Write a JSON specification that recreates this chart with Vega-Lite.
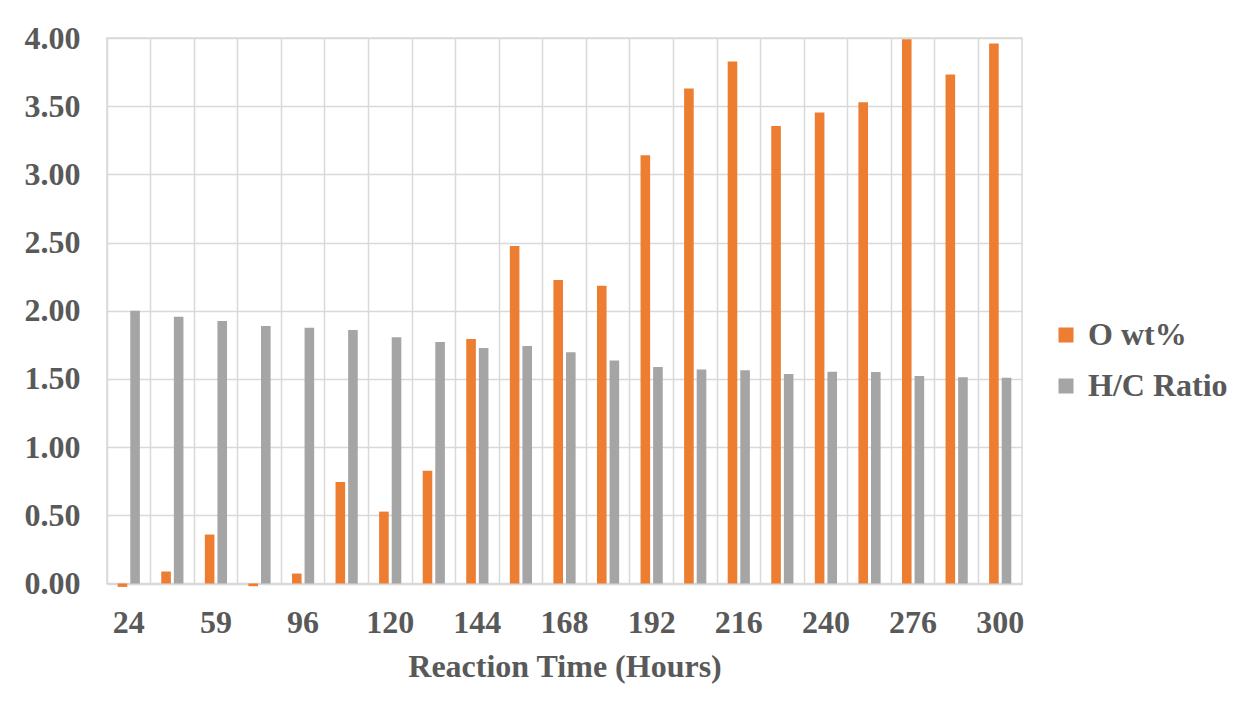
{
  "$schema": "https://vega.github.io/schema/vega-lite/v6.json",
  "width": 915,
  "height": 545.5,
  "autosize": {"type": "none"},
  "padding": {"left": 107, "top": 38, "right": 222, "bottom": 129.5},
  "background": "white",
  "data": {
    "values": [
      {"time": "24", "series": "O wt%", "value": -0.025},
      {"time": "24", "series": "H/C Ratio", "value": 2.0},
      {"time": "48", "series": "O wt%", "value": 0.088},
      {"time": "48", "series": "H/C Ratio", "value": 1.956},
      {"time": "59", "series": "O wt%", "value": 0.359},
      {"time": "59", "series": "H/C Ratio", "value": 1.925},
      {"time": "72", "series": "O wt%", "value": -0.02},
      {"time": "72", "series": "H/C Ratio", "value": 1.888},
      {"time": "96", "series": "O wt%", "value": 0.073},
      {"time": "96", "series": "H/C Ratio", "value": 1.875},
      {"time": "108", "series": "O wt%", "value": 0.745},
      {"time": "108", "series": "H/C Ratio", "value": 1.858},
      {"time": "120", "series": "O wt%", "value": 0.527},
      {"time": "120", "series": "H/C Ratio", "value": 1.805},
      {"time": "132", "series": "O wt%", "value": 0.826},
      {"time": "132", "series": "H/C Ratio", "value": 1.771},
      {"time": "144", "series": "O wt%", "value": 1.793},
      {"time": "144", "series": "H/C Ratio", "value": 1.727},
      {"time": "156", "series": "O wt%", "value": 2.474},
      {"time": "156", "series": "H/C Ratio", "value": 1.741},
      {"time": "168", "series": "O wt%", "value": 2.225},
      {"time": "168", "series": "H/C Ratio", "value": 1.695},
      {"time": "180", "series": "O wt%", "value": 2.183},
      {"time": "180", "series": "H/C Ratio", "value": 1.636},
      {"time": "192", "series": "O wt%", "value": 3.141},
      {"time": "192", "series": "H/C Ratio", "value": 1.587},
      {"time": "204", "series": "O wt%", "value": 3.63},
      {"time": "204", "series": "H/C Ratio", "value": 1.57},
      {"time": "216", "series": "O wt%", "value": 3.828},
      {"time": "216", "series": "H/C Ratio", "value": 1.563},
      {"time": "228", "series": "O wt%", "value": 3.354},
      {"time": "228", "series": "H/C Ratio", "value": 1.536},
      {"time": "240", "series": "O wt%", "value": 3.454},
      {"time": "240", "series": "H/C Ratio", "value": 1.553},
      {"time": "264", "series": "O wt%", "value": 3.528},
      {"time": "264", "series": "H/C Ratio", "value": 1.551},
      {"time": "276", "series": "O wt%", "value": 3.99},
      {"time": "276", "series": "H/C Ratio", "value": 1.521},
      {"time": "288", "series": "O wt%", "value": 3.733},
      {"time": "288", "series": "H/C Ratio", "value": 1.512},
      {"time": "300", "series": "O wt%", "value": 3.96},
      {"time": "300", "series": "H/C Ratio", "value": 1.509}
    ]
  },
  "mark": {"type": "bar"},
  "encoding": {
    "x": {
      "field": "time",
      "type": "nominal",
      "sort": null,
      "scale": {"paddingInner": 0, "paddingOuter": 0},
      "axis": {
        "title": "Reaction Time (Hours)",
        "bandPosition": 0,
        "grid": true,
        "ticks": false,
        "tickSize": 0,
        "labelAngle": 0,
        "labelOverlap": false,
        "labelPadding": 24,
        "titlePadding": 13,
        "labelExpr": "indexof(['24','59','96','120','144','168','192','216','240','276','300'], datum.value) >= 0 ? datum.label : ''"
      }
    },
    "xOffset": {
      "field": "series",
      "type": "nominal",
      "sort": ["O wt%", "H/C Ratio"],
      "scale": {"paddingInner": 0.238, "paddingOuter": 0.848}
    },
    "y": {
      "field": "value",
      "type": "quantitative",
      "scale": {"domain": [0, 4], "nice": false},
      "axis": {
        "title": null,
        "values": [0, 0.5, 1, 1.5, 2, 2.5, 3, 3.5, 4],
        "format": ".2f",
        "domain": false,
        "ticks": false,
        "tickSize": 0,
        "labelPadding": 27
      }
    },
    "color": {
      "field": "series",
      "type": "nominal",
      "scale": {"domain": ["O wt%", "H/C Ratio"], "range": ["#ED7D31", "#A5A5A5"]},
      "legend": {
        "title": null,
        "orient": "none",
        "legendX": 943,
        "legendY": 281,
        "padding": 0,
        "symbolType": "square",
        "symbolSize": 225,
        "symbolStrokeWidth": 0,
        "labelOffset": 6,
        "rowPadding": 19,
        "labelFont": "Liberation Serif",
        "labelFontSize": 32,
        "labelFontWeight": "bold",
        "labelColor": "#595959"
      }
    }
  },
  "config": {
    "view": {"stroke": "#d9d9d9", "strokeWidth": 1.5},
    "axis": {
      "gridColor": "#d9d9d9",
      "gridWidth": 1.5,
      "gridOpacity": 1,
      "domainColor": "#d9d9d9",
      "domainWidth": 1.5,
      "labelFont": "Liberation Serif",
      "labelFontSize": 32,
      "labelFontWeight": "bold",
      "labelColor": "#595959",
      "titleFont": "Liberation Serif",
      "titleFontSize": 32,
      "titleFontWeight": "bold",
      "titleColor": "#595959"
    }
  }
}
